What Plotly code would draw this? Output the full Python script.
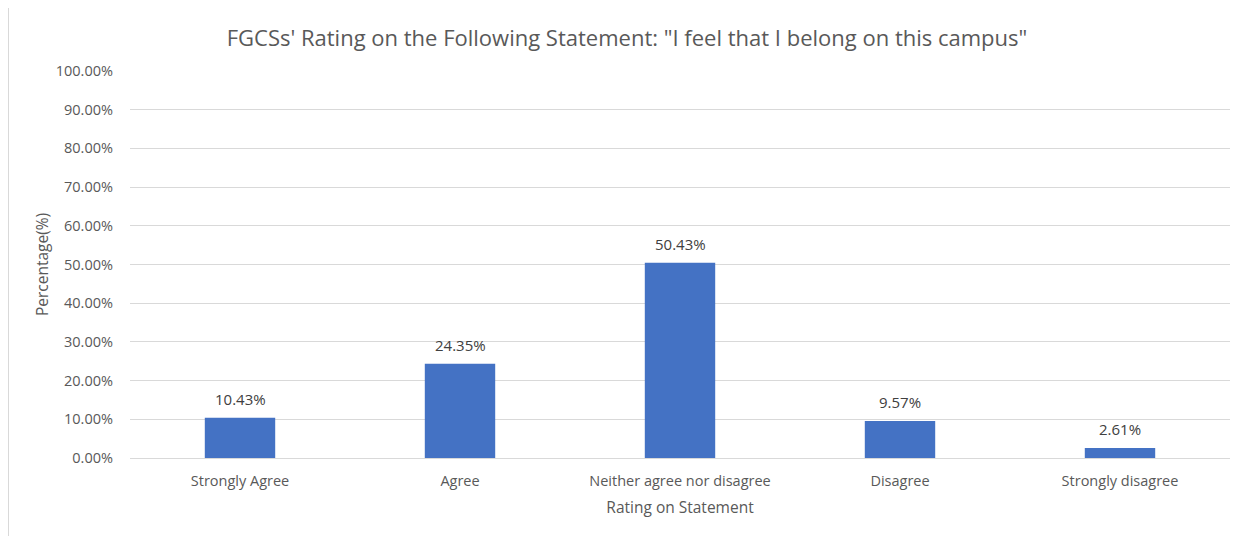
import plotly.graph_objects as go

categories = ["Strongly Agree", "Agree", "Neither agree nor disagree", "Disagree", "Strongly disagree"]
values = [0.1043, 0.2435, 0.5043, 0.0957, 0.0261]
tick_vals = [0, 0.1, 0.2, 0.3, 0.4, 0.5, 0.6, 0.7, 0.8, 0.9, 1.0]
tick_text = ["0.00%", "10.00%", "20.00%", "30.00%", "40.00%", "50.00%", "60.00%", "70.00%", "80.00%", "90.00%", "100.00%"]
labels = [f"{v*100:.2f}%" for v in values]

FONT = "Open Sans"
W, H = 1238, 528
L, R, T, B = 122, 16, 63, 78

fig = go.Figure(go.Bar(
    x=categories, y=values,
    marker=dict(color="#4472C4", line=dict(width=0)),
    hoverinfo="x+y",
))
annotations = [
    dict(x=c, y=v, text=t, xref="x", yref="y", showarrow=False,
         yanchor="bottom", yshift=7,
         font=dict(family=FONT, size=15, color="#404040"))
    for c, v, t in zip(categories, values, labels)
]
fig.update_layout(
    width=W, height=H,
    margin=dict(l=L, r=R, t=T, b=B),
    paper_bgcolor="white", plot_bgcolor="white",
    bargap=0.68,
    showlegend=False,
    font=dict(family=FONT, color="#595959"),
    title=dict(text="FGCSs' Rating on the Following Statement: \"I feel that I belong on this campus\"",
               x=0.5, xanchor="center", y=1 - 30/H, yanchor="middle",
               font=dict(family=FONT, size=22, color="#595959")),
    xaxis=dict(title=dict(text="Rating on Statement", font=dict(size=15.5, color="#595959"), standoff=13),
               tickfont=dict(size=14.5, color="#595959"), showline=False, ticks="",
               showgrid=False, ticklabelstandoff=12),
    yaxis=dict(title=dict(text="Percentage(%)", font=dict(size=15.5, color="#595959"), standoff=3),
               range=[0, 1], tickvals=tick_vals, ticktext=tick_text,
               tickfont=dict(size=14.5, color="#595959"),
               showgrid=True, gridcolor="#D9D9D9", gridwidth=1,
               zeroline=True, zerolinecolor="#D9D9D9", zerolinewidth=1,
               ticks="", ticklabelstandoff=16),
    annotations=annotations,
    shapes=[dict(type="rect", xref="paper", yref="paper",
                 x0=(-L + 0.5)/1100, x1=1.05, y0=-0.3, y1=1.5,
                 line=dict(color="#D9D9D9", width=1), layer="below")],
)
fig.write_html("out.html")
